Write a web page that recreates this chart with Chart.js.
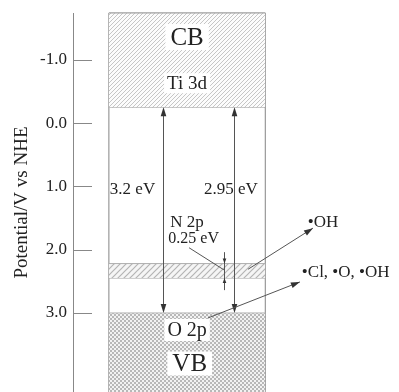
<!DOCTYPE html>
<html>
<head>
<meta charset="utf-8">
<script src="https://cdn.jsdelivr.net/npm/chart.js@4/dist/chart.umd.min.js"></script>
<style>
  html, body { margin: 0; padding: 0; background: #fff; }
  #c { display: block; }
</style>
</head>
<body>
<canvas id="c" width="399" height="392"></canvas>
<script>
// ---------------- data ----------------
const tickValues = [-1.0, 0.0, 1.0, 2.0, 3.0];
const axisMin = -1.74;          // potential at top of the plot
const axisMax = 4.25;           // potential at bottom of the plot
const bandNames = ['CB', 'N 2p', 'VB'];
const bandUpper = [-1.74, 2.22, 3.0];   // upper edge potential (V vs NHE)
const bandLower = [-0.25, 2.45, 4.25];  // lower edge potential (V vs NHE)
const gapLabels = ['3.2 eV', '2.95 eV'];
const nBandLabel = '0.25 eV';
const radicalLabels = ['\u2022OH', '\u2022Cl, \u2022O, \u2022OH'];

// ---------------- layout / styles ----------------
const SERIF = '"Liberation Serif", "DejaVu Serif", serif';
const TXT = '#222';
const blockL = 1.1, blockR = 5.9;     // x extent of the semiconductor block (x scale 0..10)
const gapArrowX = [2.76, 4.94];
const smallArrowX = 4.63;

function makePattern(kind) {
  const c = document.createElement('canvas');
  const g = c.getContext('2d');
  if (kind === 'cb') {
    c.width = 4; c.height = 4;
    g.fillStyle = '#fcfcfc'; g.fillRect(0, 0, 4, 4);
    g.strokeStyle = '#c6c6c6'; g.lineWidth = 1;
    g.beginPath();
    g.moveTo(-1, 5); g.lineTo(5, -1);
    g.moveTo(-1, 1); g.lineTo(1, -1);
    g.moveTo(3, 5); g.lineTo(5, 3);
    g.stroke();
  } else if (kind === 'n2p') {
    c.width = 6; c.height = 6;
    g.fillStyle = '#f5f5f5'; g.fillRect(0, 0, 6, 6);
    g.strokeStyle = '#b4b4b4'; g.lineWidth = 1.2;
    g.beginPath();
    g.moveTo(-1, 7); g.lineTo(7, -1);
    g.moveTo(-1, 1); g.lineTo(1, -1);
    g.moveTo(5, 7); g.lineTo(7, 5);
    g.stroke();
  } else {
    c.width = 4; c.height = 4;
    g.fillStyle = '#f2f2f2'; g.fillRect(0, 0, 4, 4);
    g.fillStyle = '#b8b8b8';
    g.fillRect(0, 0, 2, 2); g.fillRect(2, 2, 2, 2);
  }
  return g.createPattern(c, 'repeat');
}

const patterns = [makePattern('cb'), makePattern('n2p'), makePattern('vb')];
const edgeColors = ['#a0a0a0', '#b0b0b0', '#b8b8b8'];

const datasets = [];
bandNames.forEach((name, i) => {
  datasets.push({
    label: name + ' upper',
    data: [{x: blockL, y: bandUpper[i]}, {x: blockR, y: bandUpper[i]}],
    borderColor: edgeColors[i], borderWidth: 1,
    backgroundColor: patterns[i],
    fill: '+1', pointRadius: 0, clip: false, tension: 0
  });
  datasets.push({
    label: name + ' lower',
    data: [{x: blockL, y: bandLower[i]}, {x: blockR, y: bandLower[i]}],
    borderColor: edgeColors[i], borderWidth: 1,
    fill: false, pointRadius: 0, clip: false, tension: 0
  });
});
// block outline (left / right sides)
[blockL, blockR].forEach(xv => {
  datasets.push({
    label: 'side',
    data: [{x: xv, y: axisMin}, {x: xv, y: axisMax}],
    borderColor: '#999', borderWidth: 1.2, fill: false, pointRadius: 0, clip: false
  });
});
// top edge
datasets.push({
  label: 'top',
  data: [{x: blockL, y: axisMin}, {x: blockR, y: axisMin}],
  borderColor: '#999', borderWidth: 1.2, fill: false, pointRadius: 0, clip: false
});

function arrowHead(ctx, x1, y1, x2, y2, len, w) {
  const a = Math.atan2(y2 - y1, x2 - x1);
  ctx.beginPath();
  ctx.moveTo(x2, y2);
  ctx.lineTo(x2 - len * Math.cos(a) + w * Math.sin(a), y2 - len * Math.sin(a) - w * Math.cos(a));
  ctx.lineTo(x2 - len * Math.cos(a) - w * Math.sin(a), y2 - len * Math.sin(a) + w * Math.cos(a));
  ctx.closePath();
  ctx.fill();
}

function boxedText(ctx, text, x, y, font, align, pad) {
  ctx.font = font;
  ctx.textBaseline = 'middle';
  ctx.textAlign = align;
  const w = ctx.measureText(text).width;
  if (pad) {
    let lx = align === 'center' ? x - w / 2 : (align === 'right' ? x - w : x);
    ctx.fillStyle = '#fff';
    ctx.fillRect(lx - pad[0], y - pad[1], w + 2 * pad[0], 2 * pad[1]);
  }
  ctx.fillStyle = TXT;
  ctx.fillText(text, x, y + 1);
}

const annot = {
  id: 'annot',
  afterDatasetsDraw(chart) {
    const {ctx, scales: {x, y}} = chart;
    const X = v => x.getPixelForValue(v), Y = v => y.getPixelForValue(v);
    ctx.save();
    // tick marks inside the axis
    ctx.strokeStyle = '#888'; ctx.lineWidth = 1;
    tickValues.forEach(t => {
      const py = Math.round(Y(t)) + 0.5;
      ctx.beginPath(); ctx.moveTo(x.left, py); ctx.lineTo(x.left + 19, py); ctx.stroke();
    });
    // band-gap arrows (CB lower edge to VB upper edge)
    const cbEdge = bandLower[0], vbEdge = bandUpper[2];
    ctx.strokeStyle = '#555'; ctx.fillStyle = '#333'; ctx.lineWidth = 1;
    gapArrowX.forEach(gx => {
      const px = Math.round(X(gx)) + 0.5;
      ctx.beginPath(); ctx.moveTo(px, Y(cbEdge) + 6); ctx.lineTo(px, Y(vbEdge) - 6); ctx.stroke();
      arrowHead(ctx, px, Y(cbEdge) + 20, px, Y(cbEdge), 9, 2.8);
      arrowHead(ctx, px, Y(vbEdge) - 20, px, Y(vbEdge), 9, 2.8);
    });
    // small dimension arrow for N 2p width
    const sx = Math.round(X(smallArrowX)) + 0.5;
    ctx.beginPath(); ctx.moveTo(sx, Y(2.04)); ctx.lineTo(sx, Y(2.64)); ctx.stroke();
    arrowHead(ctx, sx, Y(2.04), sx, Y(bandUpper[1]), 5, 1.8);
    arrowHead(ctx, sx, Y(2.64), sx, Y(bandLower[1]), 5, 1.8);
    // pointer from 0.25 eV label
    ctx.beginPath(); ctx.moveTo(X(3.56), Y(1.97)); ctx.lineTo(X(4.63), Y(2.32)); ctx.stroke();
    // arrows to radicals
    ctx.beginPath(); ctx.moveTo(X(5.37), Y(2.31)); ctx.lineTo(X(7.36), Y(1.66)); ctx.stroke();
    arrowHead(ctx, X(5.37), Y(2.31), X(7.36), Y(1.66), 9, 3);
    ctx.beginPath(); ctx.moveTo(X(4.14), Y(3.08)); ctx.lineTo(X(6.96), Y(2.51)); ctx.stroke();
    arrowHead(ctx, X(4.14), Y(3.08), X(6.96), Y(2.51), 9, 3);
    // labels
    const cx = X((blockL + blockR) / 2);
    boxedText(ctx, 'CB', cx, Y(-1.36), '25px ' + SERIF, 'center', [5, 13]);
    boxedText(ctx, 'Ti 3d', cx, Y(-0.63), '19px ' + SERIF, 'center', [3, 10]);
    boxedText(ctx, gapLabels[0], X(1.13), Y(1.03), '17px ' + SERIF, 'left', null);
    boxedText(ctx, gapLabels[1], X(5.67), Y(1.03), '17px ' + SERIF, 'right', null);
    boxedText(ctx, 'N 2p', cx, Y(1.55), '17px ' + SERIF, 'center', null);
    boxedText(ctx, nBandLabel, X(3.7), Y(1.81), '16px ' + SERIF, 'center', null);
    boxedText(ctx, radicalLabels[0], X(7.2), Y(1.56), '17px ' + SERIF, 'left', null);
    boxedText(ctx, radicalLabels[1], X(7.02), Y(2.35), '17px ' + SERIF, 'left', null);
    boxedText(ctx, 'O 2p', cx, Y(3.27), '20px ' + SERIF, 'center', [3, 11]);
    boxedText(ctx, 'VB', X(3.58), Y(3.8), '25px ' + SERIF, 'center', [5, 12]);
    ctx.restore();
  }
};

new Chart(document.getElementById('c'), {
  type: 'line',
  data: { datasets },
  plugins: [annot],
  options: {
    responsive: false,
    animation: false,
    devicePixelRatio: 1,
    layout: { padding: { top: 13, bottom: 0, left: 0, right: 0 } },
    plugins: { legend: { display: false }, tooltip: { enabled: false } },
    scales: {
      x: { type: 'linear', min: 0, max: 10, display: false },
      y: {
        type: 'linear', reverse: true, min: axisMin, max: axisMax, position: 'left',
        afterBuildTicks: s => { s.ticks = tickValues.map(v => ({ value: v })); },
        afterFit: s => { s.width = 73; s.paddingTop = 0; s.paddingBottom = 0; },
        ticks: {
          callback: v => Number(v).toFixed(1),
          font: { family: SERIF, size: 17 }, color: TXT, padding: 6
        },
        grid: { display: false, drawTicks: false },
        border: { display: true, color: '#888', width: 1 },
        title: {
          display: true, text: 'Potential/V vs NHE',
          font: { family: SERIF, size: 19 }, color: TXT,
          padding: { top: 11, bottom: 0 }
        }
      }
    }
  }
});
</script>
</body>
</html>
